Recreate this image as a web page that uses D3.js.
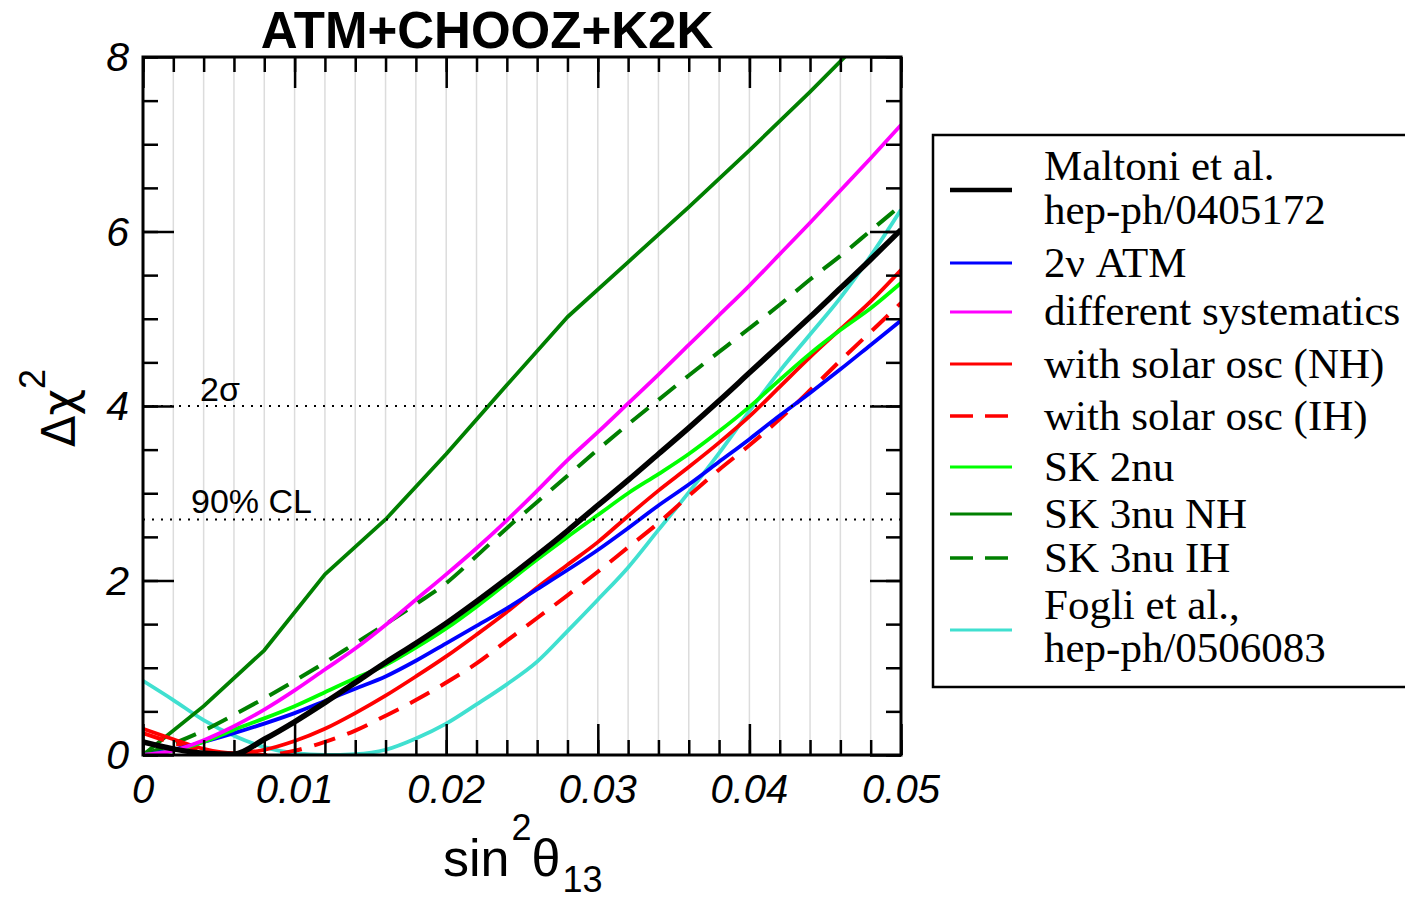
<!DOCTYPE html>
<html>
<head>
<meta charset="utf-8">
<script src="https://cdn.jsdelivr.net/npm/d3@7"></script>
<style>
  body { margin: 0; background: #fff; }
  svg text { fill: #000; }
</style>
</head>
<body>
<svg id="chart" width="1405" height="903"></svg>
<script>
// x values (sin^2 theta13) shared by most curves
var s13 = [0, 0.002, 0.004, 0.006, 0.008, 0.010, 0.012, 0.014, 0.016, 0.018, 0.020,
           0.022, 0.024, 0.026, 0.028, 0.030, 0.032, 0.034, 0.036, 0.038, 0.040,
           0.042, 0.044, 0.046, 0.048, 0.050];

// delta chi^2
var maltoni  = [0.15, 0.07, 0.02, 0.01, 0.18, 0.38, 0.60, 0.83, 1.06, 1.28, 1.51,
                1.76, 2.02, 2.29, 2.57, 2.86, 3.15, 3.45, 3.75, 4.06, 4.38,
                4.70, 5.02, 5.35, 5.68, 6.02];
var atm2nu   = [0, 0.06, 0.15, 0.25, 0.36, 0.48, 0.62, 0.76, 0.90, 1.08, 1.28,
                1.48, 1.68, 1.90, 2.12, 2.35, 2.60, 2.86, 3.10, 3.36, 3.62,
                3.89, 4.15, 4.42, 4.70, 4.98];
var diffSys  = [0, 0.05, 0.17, 0.33, 0.52, 0.74, 0.98, 1.22, 1.49, 1.78, 2.07,
                2.37, 2.69, 3.03, 3.38, 3.70, 4.03, 4.36, 4.70, 5.04, 5.38,
                5.74, 6.10, 6.47, 6.84, 7.22];
var solarNH  = [0.30, 0.18, 0.07, 0.02, 0.06, 0.16, 0.30, 0.48, 0.68, 0.90, 1.13,
                1.38, 1.64, 1.92, 2.18, 2.44, 2.74, 3.03, 3.30, 3.58, 3.88,
                4.22, 4.56, 4.88, 5.20, 5.56];
var solarIH  = [0.25, 0.14, 0.05, 0.01, 0.00, 0.05, 0.15, 0.28, 0.45, 0.63, 0.83,
                1.05, 1.31, 1.57, 1.83, 2.10, 2.38, 2.66, 2.97, 3.27, 3.55,
                3.85, 4.18, 4.52, 4.85, 5.18];
var sk2nu    = [0, 0.05, 0.15, 0.29, 0.42, 0.56, 0.72, 0.88, 1.03, 1.23, 1.45,
                1.70, 1.97, 2.24, 2.50, 2.75, 3.00, 3.22, 3.45, 3.71, 3.99,
                4.30, 4.60, 4.87, 5.12, 5.41];
var sk3nuIH  = [0, 0.13, 0.28, 0.46, 0.65, 0.85, 1.06, 1.28, 1.50, 1.73, 1.97,
                2.28, 2.60, 2.90, 3.20, 3.50, 3.79, 4.07, 4.35, 4.62, 4.89,
                5.16, 5.45, 5.72, 6.01, 6.30];
// SK 3nu NH is piecewise with kinks every 0.004, keep only its own nodes
var sk3nuNHx = [0, 0.004, 0.008, 0.012, 0.016, 0.020, 0.024, 0.028, 0.032, 0.036, 0.040, 0.044, 0.048];
var sk3nuNHy = [0, 0.56, 1.20, 2.07, 2.70, 3.45, 4.24, 5.02, 5.65, 6.28, 6.93, 7.60, 8.30];
var fogli    = [0.85, 0.63, 0.40, 0.22, 0.09, 0.02, 0.00, 0.01, 0.06, 0.19, 0.36,
                0.58, 0.81, 1.07, 1.42, 1.78, 2.15, 2.58, 3.01, 3.46, 3.94,
                4.40, 4.82, 5.24, 5.72, 6.25];

var legendLabels = [["Maltoni et al.", "hep-ph/0405172"], ["2\u03bd ATM"], ["different systematics"],
                    ["with solar osc (NH)"], ["with solar osc (IH)"], ["SK 2nu"], ["SK 3nu NH"],
                    ["SK 3nu IH"], ["Fogli et al.,", "hep-ph/0506083"]];
var levelValues = [4, 2.7];
var levelLabels = ["2\u03c3", "90% CL"];

var xTicks = [0, 0.01, 0.02, 0.03, 0.04, 0.05];
var yTicks = [0, 2, 4, 6, 8];

function zipXY(xs, ys) { return xs.map(function(v, i) { return {x: v, y: ys[i]}; }); }

var series = [
  {name: "Fogli",    data: zipXY(s13, fogli),   color: "#40e0d0", width: 3.8, dash: null, smooth: true},
  {name: "SK3nuIH",  data: zipXY(s13, sk3nuIH), color: "#008000", width: 4,   dash: "22,13", smooth: true},
  {name: "SK3nuNH",  data: zipXY(sk3nuNHx, sk3nuNHy), color: "#008000", width: 3.8, dash: null, smooth: false},
  {name: "solarIH",  data: zipXY(s13, solarIH), color: "#ff0000", width: 4,   dash: "22,13", smooth: true},
  {name: "solarNH",  data: zipXY(s13, solarNH), color: "#ff0000", width: 3.8, dash: null, smooth: true},
  {name: "atm2nu",   data: zipXY(s13, atm2nu),  color: "#0000ff", width: 3.8, dash: null, smooth: true},
  {name: "sk2nu",    data: zipXY(s13, sk2nu),   color: "#00ff00", width: 3.8, dash: null, smooth: true},
  {name: "diffSys",  data: zipXY(s13, diffSys), color: "#ff00ff", width: 3.8, dash: null, smooth: true},
  {name: "maltoni",  data: zipXY(s13, maltoni), color: "#000000", width: 5.5, dash: null, smooth: true}
];
// legend order
var legendStyle = [
  {color: "#000000", width: 4.5, dash: null},
  {color: "#0000ff", width: 3, dash: null},
  {color: "#ff00ff", width: 3, dash: null},
  {color: "#ff0000", width: 3, dash: null},
  {color: "#ff0000", width: 3.5, dash: "23,12"},
  {color: "#00ff00", width: 3, dash: null},
  {color: "#008000", width: 3, dash: null},
  {color: "#008000", width: 3.5, dash: "23,12"},
  {color: "#40e0d0", width: 3, dash: null}
];

var svg = d3.select("#chart");
var plotL = 143, plotR = 901, plotT = 57, plotB = 755;

var x = d3.scaleLinear().domain([0, 0.05]).range([plotL, plotR]);
var y = d3.scaleLinear().domain([0, 8]).range([plotB, plotT]);

var sans = "'Liberation Sans', Arial, sans-serif";
var serif = "'Liberation Serif', 'Times New Roman', serif";

// light grid every 0.002
var minorX = d3.range(0, 0.0501, 0.002);
svg.append("g").selectAll("line")
    .data(minorX.slice(1, -1))
  .enter().append("line")
    .attr("x1", function(d) { return x(d); })
    .attr("x2", function(d) { return x(d); })
    .attr("y1", plotT).attr("y2", plotB)
    .attr("stroke", "#dcdcdc")
    .attr("stroke-width", 1.5);

svg.append("clipPath").attr("id", "plotclip")
  .append("rect")
    .attr("x", plotL).attr("y", plotT)
    .attr("width", plotR - plotL).attr("height", plotB - plotT);

var smoothLine = d3.line()
    .curve(d3.curveMonotoneX)
    .x(function(d) { return x(d.x); })
    .y(function(d) { return y(d.y); });
var straightLine = d3.line()
    .x(function(d) { return x(d.x); })
    .y(function(d) { return y(d.y); });

var curves = svg.append("g").attr("clip-path", "url(#plotclip)");
series.forEach(function(s) {
  curves.append("path")
      .datum(s.data)
      .attr("d", s.smooth ? smoothLine : straightLine)
      .attr("fill", "none")
      .attr("stroke", s.color)
      .attr("stroke-width", s.width)
      .attr("stroke-dasharray", s.dash)
      .attr("stroke-linejoin", "round");
});

// dotted CL levels
svg.append("g").selectAll("line")
    .data(levelValues)
  .enter().append("line")
    .attr("x1", plotL).attr("x2", plotR)
    .attr("y1", function(d) { return y(d); })
    .attr("y2", function(d) { return y(d); })
    .attr("stroke", "#000")
    .attr("stroke-width", 2)
    .attr("stroke-dasharray", "2,7");

svg.append("text").attr("x", 200).attr("y", y(levelValues[0]) - 5)
    .style("font-family", sans).style("font-size", "34px")
    .text(levelLabels[0]);
svg.append("text").attr("x", 191).attr("y", y(levelValues[1]) - 6)
    .style("font-family", sans).style("font-size", "34px")
    .text(levelLabels[1]);

// ticks, all pointing inward
function tickAxis(axisFn, scale, values, size, transform) {
  var g = svg.append("g")
      .attr("transform", transform)
      .call(axisFn(scale).tickValues(values).tickSize(size).tickFormat(""));
  g.select(".domain").remove();
  g.selectAll(".tick line").attr("stroke", "#000").attr("stroke-width", 2.5);
  return g;
}
var minorY = d3.range(0, 8.01, 0.5);
tickAxis(d3.axisBottom, x, minorX, -15, "translate(0," + plotB + ")");
tickAxis(d3.axisBottom, x, xTicks, -31, "translate(0," + plotB + ")");
tickAxis(d3.axisTop, x, minorX, -15, "translate(0," + plotT + ")");
tickAxis(d3.axisTop, x, xTicks, -31, "translate(0," + plotT + ")");
tickAxis(d3.axisLeft, y, minorY, -15, "translate(" + plotL + ",0)");
tickAxis(d3.axisLeft, y, yTicks, -31, "translate(" + plotL + ",0)");
tickAxis(d3.axisRight, y, minorY, -15, "translate(" + plotR + ",0)");
tickAxis(d3.axisRight, y, yTicks, -31, "translate(" + plotR + ",0)");

svg.append("rect")
    .attr("x", plotL).attr("y", plotT)
    .attr("width", plotR - plotL).attr("height", plotB - plotT)
    .attr("fill", "none").attr("stroke", "#000").attr("stroke-width", 3);

// tick labels
svg.append("g").selectAll("text")
    .data(xTicks)
  .enter().append("text")
    .attr("x", function(d) { return x(d); })
    .attr("y", 803)
    .attr("text-anchor", "middle")
    .style("font-family", sans).style("font-style", "italic").style("font-size", "40px")
    .text(function(d) { return d === 0 ? "0" : d3.format(".2f")(d); });

svg.append("g").selectAll("text")
    .data(yTicks)
  .enter().append("text")
    .attr("x", 129)
    .attr("y", function(d) { return y(d) + 14; })
    .attr("text-anchor", "end")
    .style("font-family", sans).style("font-style", "italic").style("font-size", "41px")
    .text(function(d) { return d; });

// title
svg.append("text")
    .attr("x", 487).attr("y", 48)
    .attr("text-anchor", "middle")
    .style("font-family", sans).style("font-weight", "bold").style("font-size", "51px")
    .text("ATM+CHOOZ+K2K");

// x label: sin^2 theta_13
var xl = svg.append("text")
    .attr("x", 443).attr("y", 876)
    .style("font-family", sans).style("font-size", "52px");
xl.append("tspan").text("sin");
xl.append("tspan").attr("dx", 2).attr("dy", -36).style("font-size", "36px").text("2");
xl.append("tspan").attr("dy", 36).text("\u03b8");
xl.append("tspan").attr("dx", 2).attr("dy", 16).style("font-size", "36px").text("13");

// y label: delta chi^2
var yl = svg.append("text")
    .attr("transform", "translate(75,447) rotate(-90)")
    .style("font-family", "'DejaVu Sans', sans-serif").style("font-size", "46px");
yl.append("tspan").text("\u0394\u03c7");
yl.append("tspan").attr("dy", -30).style("font-family", sans).style("font-size", "36px").text("2");

// legend
var legendRows = [190, 263, 312, 364, 416, 467, 514, 558, 630];
var legendText = [[180, 224], [277], [325], [378], [430], [481], [528], [572], [619, 662]];

var lg = svg.append("g");
lg.append("rect")
    .attr("x", 933).attr("y", 135)
    .attr("width", 490).attr("height", 552)
    .attr("fill", "#fff").attr("stroke", "#000").attr("stroke-width", 2.5);

legendLabels.forEach(function(lines, i) {
  var st = legendStyle[i];
  lg.append("line")
      .attr("x1", 950).attr("x2", st.dash ? 1010 : 1012)
      .attr("y1", legendRows[i]).attr("y2", legendRows[i])
      .attr("stroke", st.color)
      .attr("stroke-width", st.width)
      .attr("stroke-dasharray", st.dash);
  lines.forEach(function(t, j) {
    lg.append("text")
        .attr("x", 1044).attr("y", legendText[i][j])
        .style("font-family", serif).style("font-size", "43px")
        .text(t);
  });
});
</script>
</body>
</html>
